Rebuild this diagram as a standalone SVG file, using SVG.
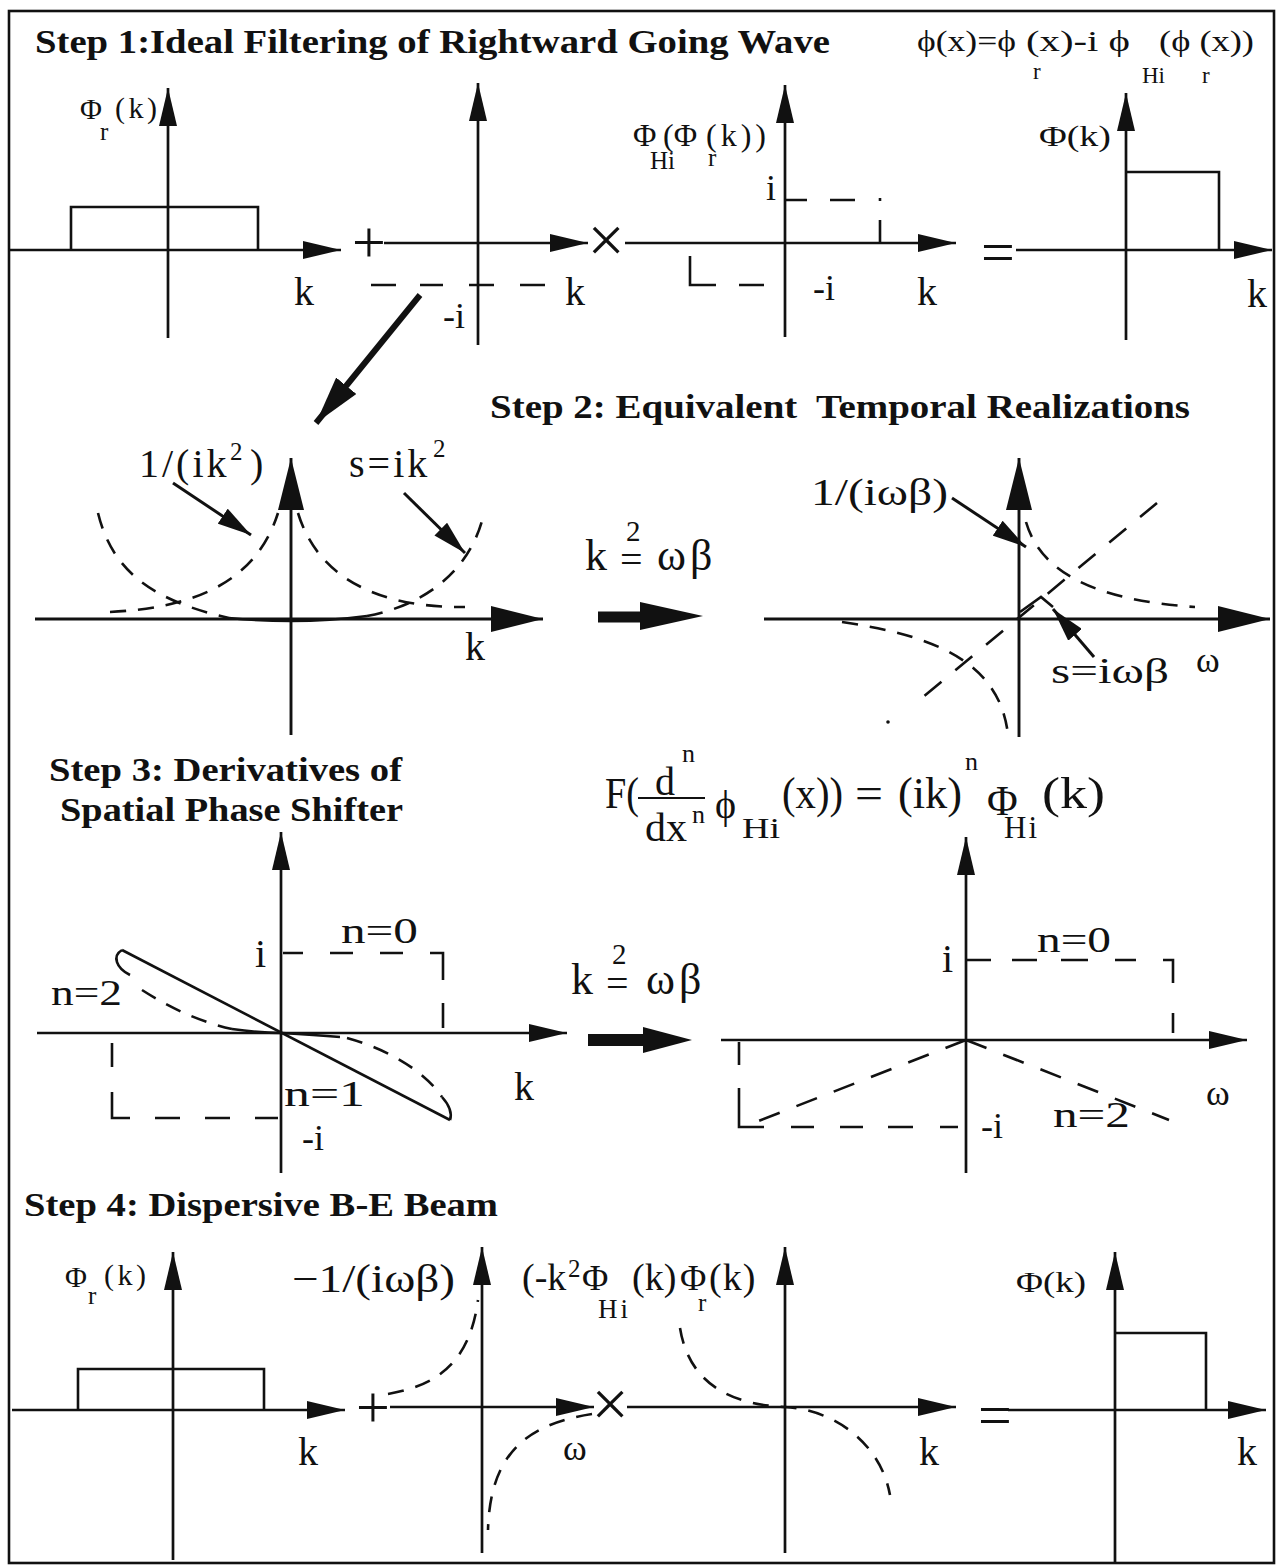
<svg xmlns="http://www.w3.org/2000/svg" width="1285" height="1565" viewBox="0 0 1285 1565" font-family="'Liberation Serif', 'Times New Roman', serif">
<style>
text{fill:#111}
.t{font-weight:bold;font-size:34px}
.axs{stroke:#111;stroke-width:2.7;fill:none;marker-end:url(#ah)}
.axb{stroke:#111;stroke-width:2.9;fill:none;marker-end:url(#ahb)}
.sol{stroke:#111;stroke-width:2.6;fill:none}
.dc{stroke:#111;stroke-width:2.6;fill:none;stroke-dasharray:16 12}
.dl{stroke:#111;stroke-width:2.6;fill:none;stroke-dasharray:22 18}
.lb{font-size:40px}
.md{font-size:36px}
.sm{font-size:30px}
.sb{font-size:25px}
.op{font-size:60px;text-anchor:middle}
</style>
<defs>
<marker id="ah" markerUnits="userSpaceOnUse" viewBox="0 0 38 18" markerWidth="38" markerHeight="18" refX="38" refY="9" orient="auto"><path d="M0,0 L38,9 L0,18 z" fill="#111"/></marker>
<marker id="ahb" markerUnits="userSpaceOnUse" viewBox="0 0 52 26" markerWidth="52" markerHeight="26" refX="52" refY="13" orient="auto"><path d="M0,0 L52,13 L0,26 z" fill="#111"/></marker>
<marker id="ahd" markerUnits="userSpaceOnUse" viewBox="0 0 48 26" markerWidth="48" markerHeight="26" refX="48" refY="13" orient="auto"><path d="M0,0 L48,13 L0,26 z" fill="#111"/></marker>
<marker id="ahp" markerUnits="userSpaceOnUse" viewBox="0 0 34 18" markerWidth="34" markerHeight="18" refX="34" refY="9" orient="auto"><path d="M0,0 L34,9 L0,18 z" fill="#111"/></marker>
</defs>
<rect width="1285" height="1565" fill="#fff"/>
<rect id="frame" x="9" y="11" width="1265" height="1552" fill="none" stroke="#111" stroke-width="2.6"/>

<!-- STEP 1 -->
<g id="step1-title">
<text class="t" x="35" y="53" textLength="795" lengthAdjust="spacingAndGlyphs">Step 1:Ideal Filtering of Rightward Going Wave</text>
<text x="917" y="51" font-size="29" textLength="99" lengthAdjust="spacingAndGlyphs">ϕ(x)=ϕ</text>
<text x="1026" y="51" font-size="29" textLength="104" lengthAdjust="spacingAndGlyphs">(x)-i ϕ</text>
<text x="1159" y="51" font-size="29" textLength="95" lengthAdjust="spacingAndGlyphs">(ϕ (x))</text>
<text x="1033" y="79" font-size="23">r</text>
<text x="1142" y="83" font-size="23">Hi</text>
<text x="1202" y="83" font-size="23">r</text>
</g>

<g id="s1-p1">
<path class="axs" d="M8,250 L341,250"/>
<path class="axs" d="M168,338 L168,88"/>
<path class="sol" d="M71,250 V207 H258 V250"/>
<text x="80" y="119" font-size="30">Φ<tspan x="100" y="140" font-size="25">r</tspan><tspan x="115" y="118" font-size="30" letter-spacing="3.5">(k)</tspan></text>
<text class="lb" x="294" y="305">k</text>
</g>

<g id="s1-plus"><text class="op" x="369" y="262">+</text></g>

<g id="s1-p2">
<path class="axs" d="M384,243 L588,243"/>
<path class="axs" d="M478,345 L478,83"/>
<path class="sol" d="M371,285 H396 M420,285 H443 M469,285 H494 M520,285 H545"/>
<text class="md" x="443" y="328">-i</text>
<text class="lb" x="565" y="305">k</text>
</g>

<g id="s1-times"><text x="606" y="262" font-size="66" text-anchor="middle">×</text></g>

<g id="s1-p3">
<path class="axs" d="M625,243 L956,243"/>
<path class="axs" d="M785,337 L785,85"/>
<path class="sol" d="M785,200 H807 M830,200 H855 M880,198 V201 M880,220 V243"/>
<path class="sol" d="M690,256 V285 H716 M739,285 H764"/>
<text x="633" y="146" font-size="32">Φ<tspan x="663">(Φ</tspan><tspan x="706" letter-spacing="4">(k))</tspan><tspan x="650" y="169" font-size="25">Hi</tspan><tspan x="708" y="166" font-size="25">r</tspan></text>
<text class="md" x="766" y="200">i</text>
<text class="md" x="813" y="300">-i</text>
<text class="lb" x="917" y="305">k</text>
</g>

<g id="s1-equals"><text class="op" x="998" y="272">=</text></g>

<g id="s1-p4">
<path class="axs" d="M1016,250 L1272,250"/>
<path class="axs" d="M1126,340 L1126,93"/>
<path class="sol" d="M1126,172 H1219 V250"/>
<text class="sm" x="1039" y="146" textLength="72" lengthAdjust="spacingAndGlyphs">Φ(k)</text>
<text class="lb" x="1247" y="307">k</text>
</g>

<!-- STEP 2 -->
<g id="step2-title">
<text class="t" x="490" y="418" textLength="700" lengthAdjust="spacingAndGlyphs">Step 2: Equivalent&#160; Temporal Realizations</text>
</g>

<g id="s2-left">
<path class="axb" d="M35,619 L543,619"/>
<path class="axb" d="M291,735 L291,458"/>
<path class="dc" d="M98,513 C112,570 150,600 229,618"/>
<path class="sol" d="M229,618 Q260,621 291,621 Q330,621 367,616" stroke-width="3.4"/>
<path class="dc" d="M367,616 C420,606 470,575 484,513"/>
<path class="dc" d="M110,612 C190,608 255,585 278,513"/>
<path class="dc" d="M298,513 C320,585 390,608 465,607"/>
<text x="139" y="477" font-size="40" letter-spacing="3">1/(ik<tspan x="230" y="460" font-size="25" letter-spacing="0">2</tspan><tspan x="250" y="477" letter-spacing="0">)</tspan></text>
<text x="349" y="477" font-size="40" letter-spacing="3">s=ik<tspan x="433" y="457" font-size="25" letter-spacing="0">2</tspan></text>
<text class="lb" x="465" y="660">k</text>
</g>

<g id="s2-map">
<text x="585" y="570" font-size="44">k<tspan x="620" y="573" font-size="40">=</tspan><tspan x="626" y="541" font-size="29">2</tspan><tspan x="657" y="570" font-size="44" letter-spacing="4">ωβ</tspan></text>
</g>

<g id="s2-right">
<path class="axb" d="M764,619 L1270,619"/>
<path class="axb" d="M1019,737 L1019,458"/>
<path class="dc" d="M1026,522 C1040,570 1090,600 1195,607"/>
<path class="dc" d="M842,622 C930,635 1000,660 1008,735"/>
<path class="dl" d="M1157,503 L911,707"/>
<circle cx="888" cy="722" r="1.8" fill="#111"/>
<path class="sol" d="M1020,612 L1041,597 L1053,607"/>
<text x="811" y="505" font-size="38" textLength="137" lengthAdjust="spacingAndGlyphs">1/(iωβ)</text>
<text class="md" x="1051" y="683" textLength="118" lengthAdjust="spacingAndGlyphs">s=iωβ</text>
<text x="1196" y="672" font-size="36">ω</text>
</g>

<!-- STEP 3 -->
<g id="step3-title">
<text class="t" x="49" y="781" font-size="35" textLength="353" lengthAdjust="spacingAndGlyphs">Step 3: Derivatives of</text>
<text class="t" x="60" y="821" font-size="35" textLength="343" lengthAdjust="spacingAndGlyphs">Spatial Phase Shifter</text>
</g>

<g id="s3-formula">
<text x="605" y="808" font-size="44" textLength="34" lengthAdjust="spacingAndGlyphs">F(</text>
<text x="655" y="795" font-size="40">d</text>
<text x="682" y="762" font-size="26">n</text>
<path d="M638,798 H705" stroke="#111" stroke-width="2.2"/>
<text x="645" y="841" font-size="40" textLength="42" lengthAdjust="spacingAndGlyphs">dx</text>
<text x="692" y="823" font-size="26">n</text>
<text x="715" y="818" font-size="40">ϕ</text>
<text x="742" y="838" font-size="30" textLength="38" lengthAdjust="spacingAndGlyphs">Hi</text>
<text x="782" y="808" font-size="44" textLength="61" lengthAdjust="spacingAndGlyphs">(x))</text>
<text x="855" y="808" font-size="44" textLength="28" lengthAdjust="spacingAndGlyphs">=</text>
<text x="898" y="808" font-size="44" textLength="64" lengthAdjust="spacingAndGlyphs">(ik)</text>
<text x="965" y="770" font-size="26">n</text>
<text x="987" y="815" font-size="42">Φ<tspan x="1004" y="838" font-size="31" letter-spacing="2">Hi</tspan></text>
<text x="1042" y="808" font-size="44" textLength="63" lengthAdjust="spacingAndGlyphs">(k)</text>
</g>

<g id="s3-left">
<path class="axs" d="M37,1033 L567,1033"/>
<path class="axs" d="M281,1173 L281,832"/>
<path class="sol" d="M283,953 H303 M330,953 H353 M380,953 H403 M430,953 H443 V980 M443,1003 V1028"/>
<path class="sol" d="M112,1043 V1067 M112,1092 V1118 H130 M155,1118 H180 M205,1118 H230 M255,1118 H278"/>
<path class="sol" d="M122,950 L450,1120" stroke-width="3.6"/>
<path class="sol" d="M122,950 C112,956 116,968 130,975" stroke-width="2.4"/>
<path class="dc" d="M142,990 C170,1008 200,1022 232,1029"/>
<path class="sol" d="M232,1029 Q260,1033 282,1033 Q315,1035 340,1037" stroke-width="3"/>
<path class="dc" d="M347,1038 C390,1050 425,1072 442,1097"/>
<path class="sol" d="M442,1097 C450,1106 452,1114 450,1120" stroke-width="2.4"/>
<text class="lb" x="255" y="967">i</text>
<text class="md" x="341" y="943" textLength="77" lengthAdjust="spacingAndGlyphs">n=0</text>
<text class="md" x="51" y="1005" textLength="71" lengthAdjust="spacingAndGlyphs">n=2</text>
<text class="md" x="284" y="1106" textLength="81" lengthAdjust="spacingAndGlyphs">n=1</text>
<text class="md" x="302" y="1150">-i</text>
<text class="lb" x="514" y="1100">k</text>
</g>

<g id="s3-map">
<text x="571" y="994" font-size="44">k<tspan x="606" y="997" font-size="40">=</tspan><tspan x="612" y="964" font-size="29">2</tspan><tspan x="646" y="994" font-size="44" letter-spacing="4">ωβ</tspan></text>
</g>

<g id="s3-right">
<path class="axs" d="M721,1040 L1247,1040"/>
<path class="axs" d="M966,1173 L966,837"/>
<path class="sol" d="M966,960 H991 M1012,960 H1037 M1061,960 H1088 M1115,960 H1136 M1163,960 H1173 V983 M1173,1013 V1033"/>
<path class="sol" d="M739,1042 V1065 M739,1088 V1127 H764 M791,1127 H814 M840,1127 H863 M888,1127 H913 M940,1127 H958"/>
<path class="dl" d="M966,1040 L743,1127"/>
<path class="dl" d="M966,1040 L1169,1120"/>
<text class="lb" x="942" y="972">i</text>
<text class="md" x="1037" y="952" textLength="74" lengthAdjust="spacingAndGlyphs">n=0</text>
<text class="md" x="981" y="1138">-i</text>
<text class="md" x="1053" y="1127" textLength="77" lengthAdjust="spacingAndGlyphs">n=2</text>
<text x="1206" y="1105" font-size="36">ω</text>
</g>

<!-- STEP 4 -->
<g id="step4-title">
<text class="t" x="24" y="1216" font-size="35" textLength="474" lengthAdjust="spacingAndGlyphs">Step 4: Dispersive B-E Beam</text>
</g>

<g id="s4-p1">
<path class="axs" d="M12,1410 L345,1410"/>
<path class="axs" d="M173,1560 L173,1252"/>
<path class="sol" d="M78,1410 V1369 H264 V1410"/>
<text x="65" y="1287" font-size="30">Φ<tspan x="88" y="1304" font-size="25">r</tspan><tspan x="104" y="1285" letter-spacing="3.5">(k)</tspan></text>
<text class="lb" x="298" y="1465">k</text>
</g>

<g id="s4-plus"><text class="op" x="373" y="1427">+</text></g>

<g id="s4-p2">
<path class="axs" d="M390,1407 L594,1407"/>
<path class="axs" d="M482,1553 L482,1247"/>
<path class="dc" d="M388,1394 C440,1385 470,1360 478,1300"/>
<path class="dc" d="M592,1414 C520,1425 490,1460 488,1530"/>
<text x="292" y="1292" font-size="40" textLength="163" lengthAdjust="spacingAndGlyphs">−1/(iωβ)</text>
<text x="563" y="1460" font-size="36">ω</text>
</g>

<g id="s4-times"><text x="610" y="1426" font-size="66" text-anchor="middle">×</text></g>

<g id="s4-p3">
<path class="axs" d="M627,1407 L956,1407"/>
<path class="axs" d="M785,1553 L785,1247"/>
<path class="dc" d="M680,1328 C690,1390 740,1405 785,1407 C830,1409 880,1440 890,1495"/>
<text x="522" y="1290" font-size="38">(-k<tspan x="568" y="1277" font-size="25">2</tspan><tspan x="582" y="1290" font-size="36">Φ</tspan><tspan x="598" y="1318" font-size="27" letter-spacing="3">Hi</tspan><tspan x="632" y="1290">(k)</tspan><tspan x="680" font-size="36">Φ</tspan><tspan x="698" y="1311" font-size="25">r</tspan><tspan x="709" y="1290" letter-spacing="1">(k)</tspan></text>
<text class="lb" x="919" y="1465">k</text>
</g>

<g id="s4-equals"><text class="op" x="995" y="1435">=</text></g>

<g id="s4-p4">
<path class="axs" d="M1008,1410 L1266,1410"/>
<path class="axs" d="M1115,1562 L1115,1252"/>
<path class="sol" d="M1115,1333 H1206 V1410"/>
<text class="sm" x="1016" y="1292" textLength="70" lengthAdjust="spacingAndGlyphs">Φ(k)</text>
<text class="lb" x="1237" y="1465">k</text>
</g>

<!-- CONNECTORS -->
<g id="connectors">
<path d="M420,295 L316,423" stroke="#111" stroke-width="6" fill="none" marker-end="url(#ahd)"/>
<path d="M173,483 L251,535" stroke="#111" stroke-width="3" fill="none" marker-end="url(#ahp)"/>
<path d="M404,493 L465,553" stroke="#111" stroke-width="3" fill="none" marker-end="url(#ahp)"/>
<path d="M952,498 L1026,547" stroke="#111" stroke-width="3" fill="none" marker-end="url(#ahp)"/>
<path d="M1094,657 L1053,609" stroke="#111" stroke-width="3" fill="none" marker-end="url(#ahp)"/>
<path d="M598,617 H645" stroke="#111" stroke-width="11"/>
<path d="M640,602 L703,616 L640,630 z" fill="#111"/>
<path d="M588,1040 H646" stroke="#111" stroke-width="12"/>
<path d="M643,1027 L692,1040 L643,1053 z" fill="#111"/>
</g>
</svg>
